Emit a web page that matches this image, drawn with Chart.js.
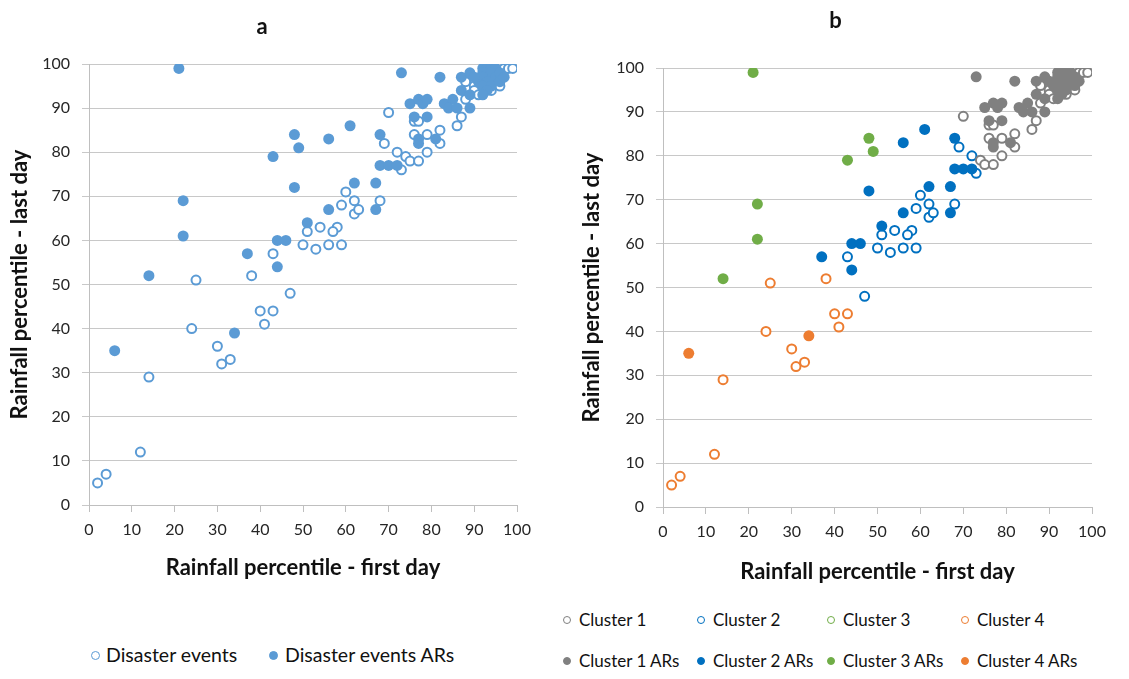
<!DOCTYPE html>
<html>
<head>
<meta charset="utf-8">
<script src="https://cdn.jsdelivr.net/npm/chart.js@4.4.1/dist/chart.umd.min.js"></script>
<style>
  body { margin: 0; background: #fff; width: 1129px; height: 679px; overflow: hidden; position: relative; font-family: Lato, "Open Sans", sans-serif; }
  canvas { position: absolute; top: 0; }
  #chartA { left: 0; }
  #chartB { left: 572px; }
  .lg { position: absolute; height: 24px; line-height: 24px; color: #111; white-space: nowrap; }
  .lg i { display: inline-block; border-radius: 50%; border: 1.6px solid; box-sizing: content-box; vertical-align: middle; position: relative; top: -2px; }
</style>
</head>
<body>
<canvas id="chartA" width="542" height="600"></canvas>
<canvas id="chartB" width="545" height="600"></canvas>
<div id="legendA"></div>
<div id="legendB"></div>
<script>
// Rainfall percentile: first day (x) vs last day (y), per cluster
const cluster1X = [70, 76, 77, 76, 79, 82, 82, 79, 74, 75, 77, 86, 87, 88, 88, 90, 90, 91, 93, 95, 94, 96, 97, 98, 99, 93, 96];
const cluster1Y = [89, 87, 87, 84, 84, 85, 82, 80, 79, 78, 78, 86, 88, 92, 96, 95, 94, 93, 97, 96, 94, 97, 99, 99, 99, 95, 95];
const cluster1ArX = [73, 82, 87, 89, 75, 77, 78, 79, 83, 85, 84, 86, 89, 76, 79, 77, 77, 81, 87, 89, 91, 92, 93, 94, 95, 92, 94, 92, 93, 95, 96, 92, 94, 93, 92, 96, 97, 90];
const cluster1ArY = [98, 97, 97, 98, 91, 92, 91, 92, 91, 92, 90, 90, 90, 88, 88, 83, 82, 83, 94, 93, 96, 99, 99, 99, 99, 98, 98, 97, 96, 97, 98, 95, 95, 94, 93, 96, 97, 97];

const cluster2X = [43, 47, 51, 50, 53, 56, 59, 54, 58, 57, 62, 63, 59, 62, 68, 60, 73, 72, 69];
const cluster2Y = [57, 48, 62, 59, 58, 59, 59, 63, 63, 62, 66, 67, 68, 69, 69, 71, 76, 80, 82];
const cluster2ArX = [48, 44, 46, 37, 44, 51, 61, 56, 68, 62, 67, 56, 67, 68, 70, 72];
const cluster2ArY = [72, 60, 60, 57, 54, 64, 86, 83, 84, 73, 73, 67, 67, 77, 77, 77];

const cluster3X = [];
const cluster3Y = [];
const cluster3ArX = [21, 48, 49, 43, 22, 22, 14];
const cluster3ArY = [99, 84, 81, 79, 69, 61, 52];

const cluster4X = [25, 38, 40, 43, 41, 24, 30, 31, 33, 14, 12, 4, 2];
const cluster4Y = [51, 52, 44, 44, 41, 40, 36, 32, 33, 29, 12, 7, 5];
const cluster4ArX = [6, 34];
const cluster4ArY = [35, 39];

const clusterNames = ["Cluster 1", "Cluster 2", "Cluster 3", "Cluster 4"];
const clusterColors = ["#808080", "#0070c0", "#70ad47", "#ed7d31"];
const eventsColor = "#5b9bd5";

function pts(xs, ys) {
  return xs.map((x, i) => ({ x: x, y: ys[i] }));
}

const openX = [cluster1X, cluster2X, cluster3X, cluster4X];
const openY = [cluster1Y, cluster2Y, cluster3Y, cluster4Y];
const arX = [cluster1ArX, cluster2ArX, cluster3ArX, cluster4ArX];
const arY = [cluster1ArY, cluster2ArY, cluster3ArY, cluster4ArY];

function openSet(label, data, color, order) {
  return { label: label, data: data, pointRadius: 4.5, pointHoverRadius: 4.5, pointBorderWidth: 2,
    borderColor: color, backgroundColor: "#ffffff", order: order };
}
function fillSet(label, data, color, order) {
  return { label: label, data: data, pointRadius: 5.5, pointHoverRadius: 5.5, pointBorderWidth: 0,
    borderColor: color, backgroundColor: color, order: order };
}

// heights of the x scale so that the plot bottoms match
const xHeight = { a: 95, b: 93 };

function makeOptions(titleText, titleTop, titleBottom, yWidth, xTitleBottom) {
  const tickFont = { family: "Lato, 'Open Sans', sans-serif", size: 16 };
  const titleFont = { family: "Lato, 'Open Sans', sans-serif", size: 22, weight: "bold" };
  return {
    responsive: false,
    animation: false,
    layout: { padding: { left: 7, right: 25, top: 0, bottom: 0 }, autoPadding: false },
    plugins: {
      legend: { display: false },
      tooltip: { enabled: false },
      title: { display: true, text: titleText, color: "#111",
        font: { family: "Lato, 'Open Sans', sans-serif", size: 22, weight: "bold" },
        padding: { top: titleTop, bottom: titleBottom } }
    },
    scales: {
      x: {
        type: "linear", min: 0, max: 100,
        afterFit: (s) => { s.height = xHeight[titleText]; },
        ticks: { stepSize: 10, color: "#262626", font: tickFont, padding: 8, maxRotation: 0 },
        grid: { drawOnChartArea: false, drawTicks: true, tickLength: 7, color: "#bfbfbf" },
        border: { color: "#bfbfbf" },
        title: { display: true, text: "Rainfall percentile - first day", color: "#111", font: titleFont,
          padding: { top: 0, bottom: xTitleBottom } }
      },
      y: {
        min: 0, max: 100,
        afterFit: (s) => { s.width = yWidth; },
        ticks: { stepSize: 10, color: "#262626", font: tickFont, padding: 12 },
        grid: { drawTicks: true, tickLength: 7, color: "#c8c8c8" },
        border: { color: "#bfbfbf" },
        title: { display: true, text: "Rainfall percentile - last day", color: "#111", font: titleFont,
          padding: { top: 0, bottom: 0 } }
      }
    }
  };
}

// Panel a: all events in one colour
const allOpen = [];
const allAr = [];
for (let k = 0; k < 4; k++) {
  allOpen.push(...pts(openX[k], openY[k]));
  allAr.push(...pts(arX[k], arY[k]));
}
new Chart(document.getElementById("chartA"), {
  type: "scatter",
  data: { datasets: [
    openSet("Disaster events", allOpen, eventsColor, 1),
    fillSet("Disaster events ARs", allAr, eventsColor, 0)
  ] },
  options: makeOptions("a", 14, 23.6, 82, 19)
});

// Panel b: coloured by cluster
const setsB = [];
for (let k = 0; k < 4; k++) {
  setsB.push(openSet(clusterNames[k], pts(openX[k], openY[k]), clusterColors[k], 1));
}
for (let k = 0; k < 4; k++) {
  setsB.push(fillSet(clusterNames[k] + " ARs", pts(arX[k], arY[k]), clusterColors[k], 0));
}
new Chart(document.getElementById("chartB"), {
  type: "scatter",
  data: { datasets: setsB },
  options: makeOptions("b", 8, 33.6, 84, 15)
});

// Legends
function legendItem(parent, left, centerY, label, color, filled, size, fontSize, gap) {
  const d = document.createElement("div");
  d.className = "lg";
  d.style.left = left + "px";
  d.style.top = (centerY - 12) + "px";
  d.style.fontSize = fontSize + "px";
  const m = document.createElement("i");
  m.style.borderColor = color;
  m.style.background = filled ? color : "#fff";
  m.style.width = size + "px";
  m.style.height = size + "px";
  m.style.marginRight = gap + "px";
  d.appendChild(m);
  d.appendChild(document.createTextNode(label));
  parent.appendChild(d);
}
const legA = document.getElementById("legendA");
legendItem(legA, 91, 655, "Disaster events", eventsColor, false, 7, 19.5, 6);
legendItem(legA, 269, 655, "Disaster events ARs", eventsColor, true, 7, 19.5, 7);

const legB = document.getElementById("legendB");
const colLeft = [563, 697, 827, 961];
for (let k = 0; k < 4; k++) {
  legendItem(legB, colLeft[k], 620, clusterNames[k], clusterColors[k], false, 6, 17, 8);
  legendItem(legB, colLeft[k], 661, clusterNames[k] + " ARs", clusterColors[k], true, 6, 17, 8);
}
</script>
</body>
</html>
